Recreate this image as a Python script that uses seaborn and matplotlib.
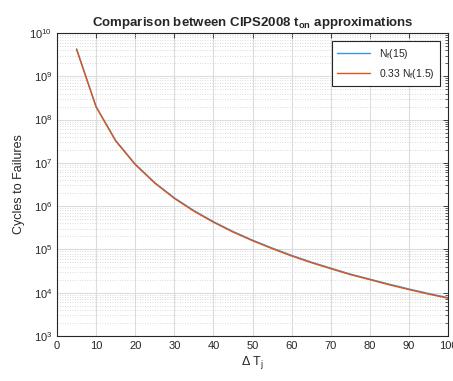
import numpy as np
import pandas as pd
import seaborn as sns
import matplotlib
matplotlib.use("Agg")
import matplotlib.pyplot as plt
from matplotlib.ticker import MultipleLocator, LogLocator, NullFormatter

delta_tj = [5, 10, 15, 20, 25, 30, 35, 40, 45, 50, 55, 60, 65, 70, 75, 80, 85, 90, 95, 100]
nf_15 = [4.3e9, 2.0e8, 3.3e7, 9.4e6, 3.5e6, 1.56e6, 7.9e5, 4.4e5, 2.6e5, 1.64e5,
         1.08e5, 7.3e4, 5.1e4, 3.7e4, 2.7e4, 2.06e4, 1.57e4, 1.22e4, 9.6e3, 7.7e3]
nf_15_approx = [4.2e9, 1.95e8, 3.2e7, 9.1e6, 3.4e6, 1.51e6, 7.65e5, 4.25e5, 2.52e5, 1.59e5,
                1.045e5, 7.05e4, 4.95e4, 3.58e4, 2.62e4, 2.0e4, 1.52e4, 1.18e4, 9.3e3, 7.45e3]
series_names = ["N$_\\mathregular{f}$(15)", "0.33 N$_\\mathregular{f}$(1.5)"]

df = pd.DataFrame({
    "dT": delta_tj * 2,
    "Nf": nf_15 + nf_15_approx,
    "series": [series_names[0]] * len(delta_tj) + [series_names[1]] * len(delta_tj),
})

sns.set_style("white")
plt.rcParams["font.family"] = ["Liberation Sans", "DejaVu Sans"]
plt.rcParams["mathtext.fontset"] = "custom"
plt.rcParams["mathtext.rm"] = "Liberation Sans"
plt.rcParams["mathtext.it"] = "Liberation Sans"
plt.rcParams["mathtext.bf"] = "Liberation Sans:bold"

fig = plt.figure(figsize=(4.53, 3.81), dpi=100)
ax = fig.add_axes([57 / 453, 1 - 336 / 381, (448 - 57) / 453, (336 - 33) / 381])

sns.lineplot(data=df, x="dT", y="Nf", hue="series",
             palette=["#3a98d8", "#e0541a"], linewidth=1.0, ax=ax)

ax.set_yscale("log")
ax.set_xlim(0, 100)
ax.set_ylim(1e3, 1e10)
ax.xaxis.set_major_locator(MultipleLocator(10))
ax.yaxis.set_major_locator(LogLocator(base=10, numticks=20))
ax.yaxis.set_minor_locator(LogLocator(base=10, subs=np.arange(2, 10), numticks=100))
ax.yaxis.set_minor_formatter(NullFormatter())

ax.grid(True, which="major", color="#dcdcdc", linewidth=0.8)
ax.yaxis.grid(True, which="minor", color="#cfcfcf", linewidth=0.6, linestyle=(0, (1, 2)))
ax.set_axisbelow(True)

ax.tick_params(which="both", direction="in", top=True, right=True, labelsize=8, colors="#262626")
ax.tick_params(which="major", length=3.5, width=0.6)
ax.tick_params(axis="y", which="minor", length=2, width=0.5)
for s in ax.spines.values():
    s.set_color("#262626")
    s.set_linewidth(0.8)

ax.set_xlabel("$\\Delta$ T$_\\mathregular{j}$", fontsize=9, color="#262626", labelpad=2)
ax.set_ylabel("Cycles to Failures", fontsize=9, color="#262626", labelpad=3)
ax.set_title("Comparison between CIPS2008 t$_\\mathregular{on}$ approximations",
             fontsize=9.5, fontweight="bold", pad=5)

leg = ax.legend(loc="upper right", fontsize=7.5, frameon=True, fancybox=False,
                edgecolor="#262626", framealpha=1, borderaxespad=0.8,
                handlelength=3.2, borderpad=0.5, labelspacing=0.6)
leg.get_frame().set_linewidth(0.8)
leg.set_title(None)

fig.savefig("out.png", dpi=100)
